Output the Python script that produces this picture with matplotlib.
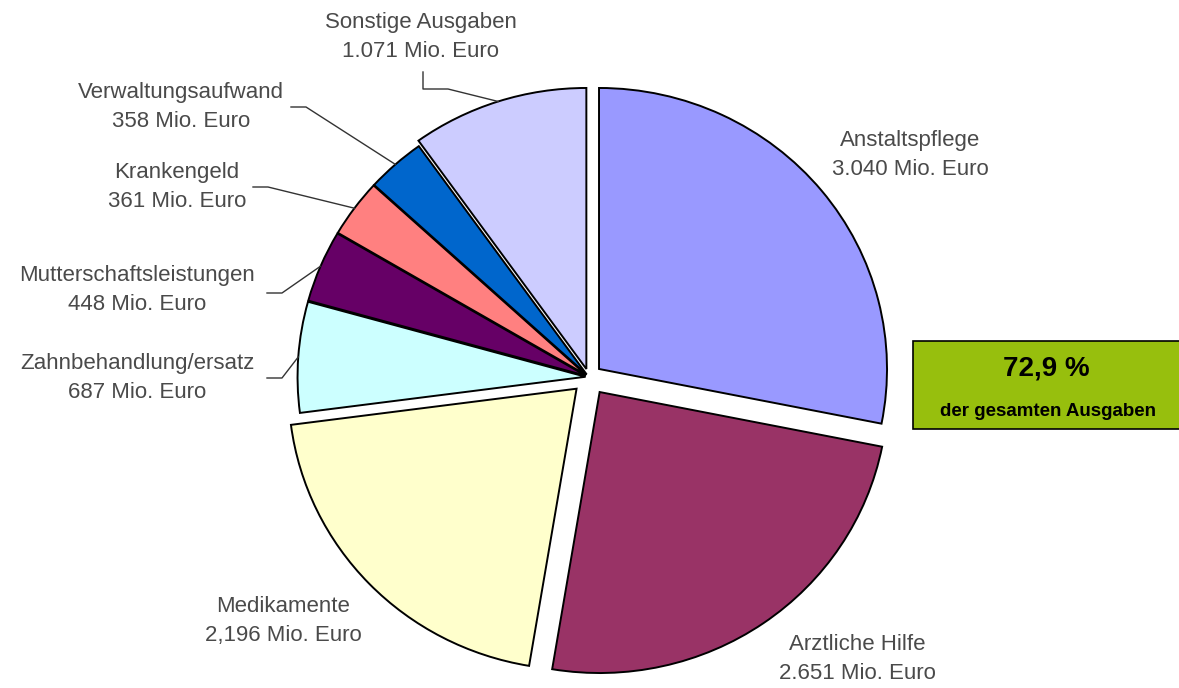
import matplotlib
matplotlib.use("Agg")
import matplotlib.pyplot as plt
import numpy as np

# Ausgaben in Mio. Euro
categories = ["Anstaltspflege", "Arztliche Hilfe", "Medikamente", "Zahnbehandlung/ersatz",
              "Mutterschaftsleistungen", "Krankengeld", "Verwaltungsaufwand", "Sonstige Ausgaben"]
values = [3040, 2651, 2196, 687, 448, 361, 358, 1071]
value_texts = ["3.040", "2.651", "2,196", "687", "448", "361", "358", "1.071"]
colors = ["#9999FF", "#993366", "#FFFFCC", "#CCFFFF", "#660066", "#FF8080", "#0066CC", "#CCCCFF"]
explode = [0.045, 0.065, 0.06, 0.012, 0.012, 0.012, 0.012, 0.03]

share_text = "72,9 %"
share_sub = "der gesamten Ausgaben"

W, H = 1179, 688
CX, CY = 589, 377      # pie centre in pixels (from top-left)
RX, RY = 288, 281      # horizontal / vertical radius in pixels

# label anchor (pixel) positions and whether a leader line is drawn
label_pos = [(910, 155), (857, 659), (283, 621), (137, 378),
             (137, 290), (177, 187), (181, 107), (421, 37)]
leader = [False, False, False, True, True, True, True, False]
# start of each leader's short horizontal tick, relative to the label anchor
leader_start = {3: (130, 0), 4: (130, 3), 5: (76, 0), 6: (110, 0)}


def d(x, y):
    """pixel position (y downwards) -> data coordinates of the pie axes"""
    return (x - CX) / RX, (CY - y) / RY


fig = plt.figure(figsize=(W / 100, H / 100), dpi=100)
ax = fig.add_axes([0, 0, 1, 1])
wedges, _ = ax.pie(values, colors=colors, explode=explode, startangle=90,
                   counterclock=False, radius=1.0,
                   wedgeprops=dict(edgecolor="black", linewidth=1.4))
ax.set_aspect("auto")
ax.set_xlim(-CX / RX, (W - CX) / RX)
ax.set_ylim(-(H - CY) / RY, CY / RY)
ax.axis("off")

txt_kw = dict(ha="center", va="center", fontsize=16, color="#4a4a4a",
              family=["Liberation Sans", "DejaVu Sans"], linespacing=1.55)

for i, (name, vt) in enumerate(zip(categories, value_texts)):
    lx, ly = label_pos[i]
    ax.text(*d(lx, ly), f"{name}\n{vt} Mio. Euro", **txt_kw)

    # leader lines end on the wedge rim at its middle angle
    w = wedges[i]
    mid = np.deg2rad((w.theta1 + w.theta2) / 2)
    ox, oy = w.center
    ex, ey = ox + np.cos(mid) * w.r, oy + np.sin(mid) * w.r
    if leader[i]:
        dx, dy = leader_start[i]
        sx, sy = d(lx + dx, ly + dy)
        kx = sx + 15 / RX
        ax.plot([sx, kx, ex], [sy, sy, ey], color="#333333", lw=1.0)
    elif i == 7:
        sx, sy = d(lx + 2, ly + 35)
        ky = sy - 17 / RY
        kx = sx + 25 / RX
        ax.plot([sx, sx, kx, ex], [sy, ky, ky, ey], color="#333333", lw=1.0)

# highlighted share box on the right
bx0, by0 = d(913, 429)
bx1, by1 = d(1185, 341)
ax.add_patch(plt.Rectangle((bx0, by0), bx1 - bx0, by1 - by0, facecolor="#97BF0D",
                           edgecolor="black", linewidth=1.2, clip_on=False))
ax.text(*d(1046, 368), share_text, ha="center", va="center", fontsize=20,
        fontweight="bold", color="black", family=["Liberation Sans", "DejaVu Sans"])
ax.text(*d(1048, 411), share_sub, ha="center", va="center", fontsize=13.5,
        fontweight="bold", color="black", family=["Liberation Sans", "DejaVu Sans"])

fig.savefig("out.png", dpi=100, facecolor="white")
